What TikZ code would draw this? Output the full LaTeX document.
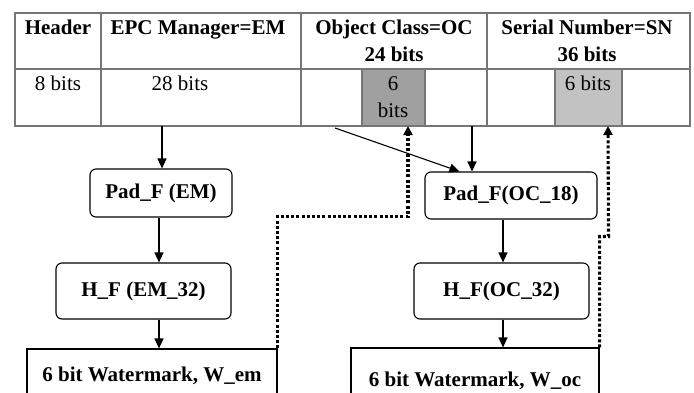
\documentclass[tikz,border=0pt]{standalone}
\usepackage{fontspec}
\setmainfont{Liberation Serif}
\usetikzlibrary{arrows.meta, positioning, calc}
\definecolor{gridgray}{RGB}{118, 118, 118}
\definecolor{darkcell}{RGB}{160, 160, 160}
\definecolor{lightcell}{RGB}{194, 194, 194}

\begin{document}
\begin{tikzpicture}[x=1pt, y=-1pt,
  tab/.style={draw=gridgray, line width=1.6pt},
  head/.style={font=\fontsize{21}{27}\selectfont\bfseries, align=center, anchor=north, inner sep=0pt},
  bits/.style={font=\fontsize{21}{27}\selectfont, align=center, anchor=north, inner sep=0pt},
  proc/.style={draw, rounded corners=6pt, line width=1.1pt, font=\fontsize{21}{27}\selectfont\bfseries},
  wmbox/.style={draw, line width=1.1pt, font=\fontsize{21}{27}\selectfont\bfseries},
  flow/.style={line width=1.1pt, -{Triangle[length=10pt, width=9pt]}},
  wmline/.style={line width=3.1pt, dash pattern=on 3pt off 2.2pt, -{Triangle[length=9pt, width=9pt]}}]
  \clip (0,0) rectangle (694,392);

  % EPC layout
  \fill[darkcell] (362,69) rectangle (425,126);
  \fill[lightcell] (555,69) rectangle (622,126);
  \draw[tab] (15,13) rectangle (690,126);
  \draw[tab] (15,69) -- (690,69);
  \foreach \x in {101,301,487} \draw[tab] (\x,13) -- (\x,126);
  \foreach \x in {362,425,555,622} \draw[tab] (\x,69) -- (\x,126);

  \node[head] (hdr) at (58,20) {Header};
  \node[head] (em) at (198,20) {EPC Manager=EM};
  \node[head] (oc) at (394,20) {Object Class=OC\\24 bits};
  \node[head] (sn) at (587,20) {Serial Number=SN\\36 bits};
  \node[bits] (hdrbits) at (58,76) {8 bits};
  \node[bits] (embits) at (180,76) {28 bits};
  \node[bits] (ocbits) at (393,76) {6\\bits};
  \node[bits] (snbits) at (588,76) {6 bits};

  \coordinate (emout) at (162,126);
  \coordinate (ocleft) at (335,128);
  \coordinate (ocout) at (472,126);
  \coordinate (ocin) at (408,126);
  \coordinate (snin) at (608,126);
  \coordinate (emmid) at (159,0);
  \coordinate (ocmid) at (503,0);

  % EM chain
  \node[proc, minimum width=142, minimum height=48] (padem) at (161,193) {Pad\_F (EM)};
  \node[proc, minimum width=175, minimum height=56] (hfem) at (143.5,291) {H\_F (EM\_32)};
  \node[wmbox, minimum width=250, minimum height=54] (wmem) at (152,376) {6 bit Watermark, W\_em};

  % OC chain
  \node[proc, minimum width=172, minimum height=47] (padoc) at (511,195.5) {Pad\_F(OC\_18)};
  \node[proc, minimum width=175, minimum height=56] (hfoc) at (501.5,291) {H\_F(OC\_32)};
  \node[wmbox, minimum width=248, minimum height=66] (wmoc) at (475,381) {6 bit Watermark, W\_oc};

  \draw[flow] (emout) -- (emout |- padem.north);
  \draw[flow] (emmid |- padem.south) -- (emmid |- hfem.north);
  \draw[flow] (emmid |- hfem.south) -- (emmid |- wmem.north);
  \draw[flow] (ocleft) -- ($(padoc.north west)+(35,0)$);
  \draw[flow] (ocout) -- (ocout |- padoc.north);
  \draw[flow] (ocmid |- padoc.south) -- (ocmid |- hfoc.north);
  \draw[flow] (ocmid |- hfoc.south) -- (ocmid |- wmoc.north);

  % watermarks back into the tag
  \draw[wmline] (wmem.north east) -- ++(0,-132) -| (ocin);
  \draw[wmline] (wmoc.north east) -- ++(0,-111) -- ++(9,0) -- (snin);
\end{tikzpicture}
\end{document}
